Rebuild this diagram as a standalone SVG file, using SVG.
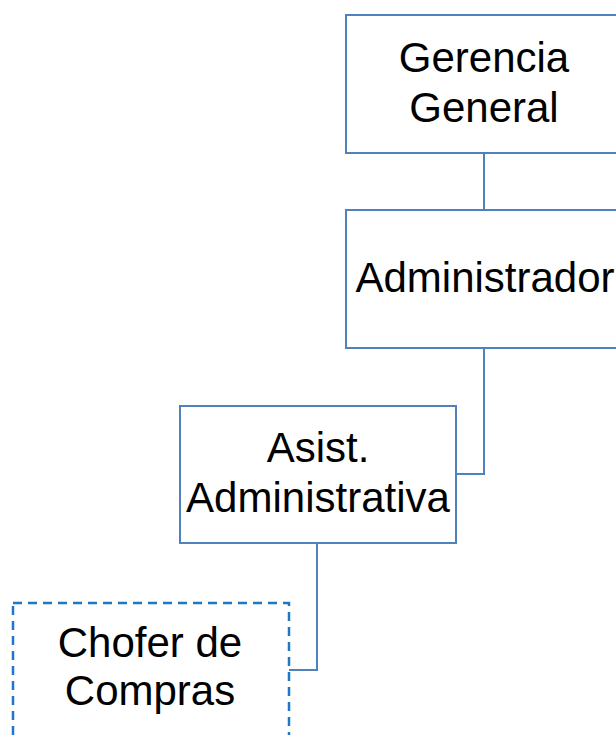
<svg xmlns="http://www.w3.org/2000/svg" width="616" height="735" viewBox="0 0 616 735">
<style>
.box{fill:#ffffff;stroke:#4f81bd;stroke-width:2}
.dash{fill:#ffffff;stroke:#1f77c8;stroke-width:2.5;stroke-dasharray:9 6}
.lbl{font-family:"Liberation Sans",Arial,sans-serif;font-size:42px;fill:#000;text-anchor:middle}
.con{fill:none;stroke:#4f81bd;stroke-width:2}
</style>
<rect width="616" height="735" fill="#ffffff"/>
<g id="connectors">
<path class="con" d="M484 153 V210"/>
<path class="con" d="M484 348 V474 H456"/>
<path class="con" d="M317 543 V670 H289"/>
</g>
<g id="gerencia">
<rect class="box" x="346" y="15" width="276" height="138"/>
<text class="lbl" x="484" y="72">Gerencia</text>
<text class="lbl" x="484" y="122">General</text>
</g>
<g id="administrador">
<rect class="box" x="346" y="210" width="276" height="138"/>
<text class="lbl" x="485" y="292">Administrador</text>
</g>
<g id="asistente">
<rect class="box" x="180" y="406" width="276" height="137"/>
<text class="lbl" x="318" y="462">Asist.</text>
<text class="lbl" x="318" y="512">Administrativa</text>
</g>
<g id="chofer">
<rect class="dash" x="13" y="603" width="276" height="150"/>
<text class="lbl" x="150" y="657">Chofer de</text>
<text class="lbl" x="150" y="705">Compras</text>
</g>
</svg>
